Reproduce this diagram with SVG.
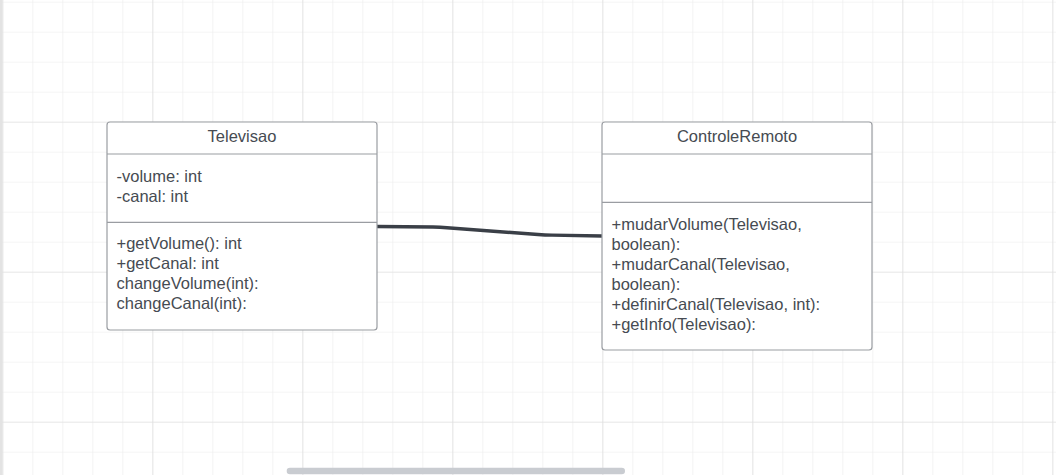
<svg xmlns="http://www.w3.org/2000/svg" width="1056" height="475" viewBox="0 0 1056 475">
<defs>
<pattern id="minor" x="2.3" y="1.7" width="30" height="30" patternUnits="userSpaceOnUse">
<path d="M0,0 H30 M0,0 V30" fill="none" stroke="#ebebeb" stroke-width="1.2"/>
</pattern>
<pattern id="major" x="2.3" y="121.7" width="150" height="150" patternUnits="userSpaceOnUse">
<path d="M0,0 H150 M0,0 V150" fill="none" stroke="#dcdcdc" stroke-width="1.2"/>
</pattern>
</defs>
<style>
.box{fill:#ffffff;stroke:#9a9da2;stroke-width:1.2}
.div{stroke:#9a9da2;stroke-width:1.2}
.t{font-family:"Liberation Sans",Arial,sans-serif;font-size:16.5px;fill:#464b52}
.c{text-anchor:middle}
.conn{fill:none;stroke:#3a3f47;stroke-width:3.4;stroke-linejoin:round}
</style>
<rect width="1056" height="475" fill="#ffffff"/>
<rect width="1056" height="475" fill="url(#minor)"/>
<rect width="1056" height="475" fill="url(#major)"/>
<rect x="0" y="0" width="2.5" height="475" fill="#e3e3e3"/>
<g id="connectors">
<path class="conn" d="M377,226.5 L433,227 Q440,227.3 447,227.8 L538,234.5 Q545,235 552,235.1 L602,236"/>
</g>
<g id="Televisao">
<rect class="box" x="107" y="122" width="270" height="208" rx="3"/>
<line class="div" x1="107" y1="154" x2="377" y2="154"/>
<line class="div" x1="107" y1="222.3" x2="377" y2="222.3"/>
<text class="t c" x="242" y="141.7">Televisao</text>
<text class="t" x="116.5" y="181.7">-volume: int</text>
<text class="t" x="116.5" y="201.7">-canal: int</text>
<text class="t" x="116.5" y="249.3">+getVolume(): int</text>
<text class="t" x="116.5" y="269.3">+getCanal: int</text>
<text class="t" x="116.5" y="289.3">changeVolume(int):</text>
<text class="t" x="116.5" y="309.3">changeCanal(int):</text>
</g>
<g id="ControleRemoto">
<rect class="box" x="602" y="122" width="270" height="228" rx="3"/>
<line class="div" x1="602" y1="154" x2="872" y2="154"/>
<line class="div" x1="602" y1="202.3" x2="872" y2="202.3"/>
<text class="t c" x="737" y="141.7">ControleRemoto</text>
<text class="t" x="611.5" y="230">+mudarVolume(Televisao,</text>
<text class="t" x="611.5" y="250">boolean):</text>
<text class="t" x="611.5" y="270">+mudarCanal(Televisao,</text>
<text class="t" x="611.5" y="290">boolean):</text>
<text class="t" x="611.5" y="310">+definirCanal(Televisao, int):</text>
<text class="t" x="611.5" y="330">+getInfo(Televisao):</text>
</g>
<rect x="286.7" y="467.7" width="338.3" height="6.6" rx="3.3" fill="#c9ccd1"/>
</svg>
